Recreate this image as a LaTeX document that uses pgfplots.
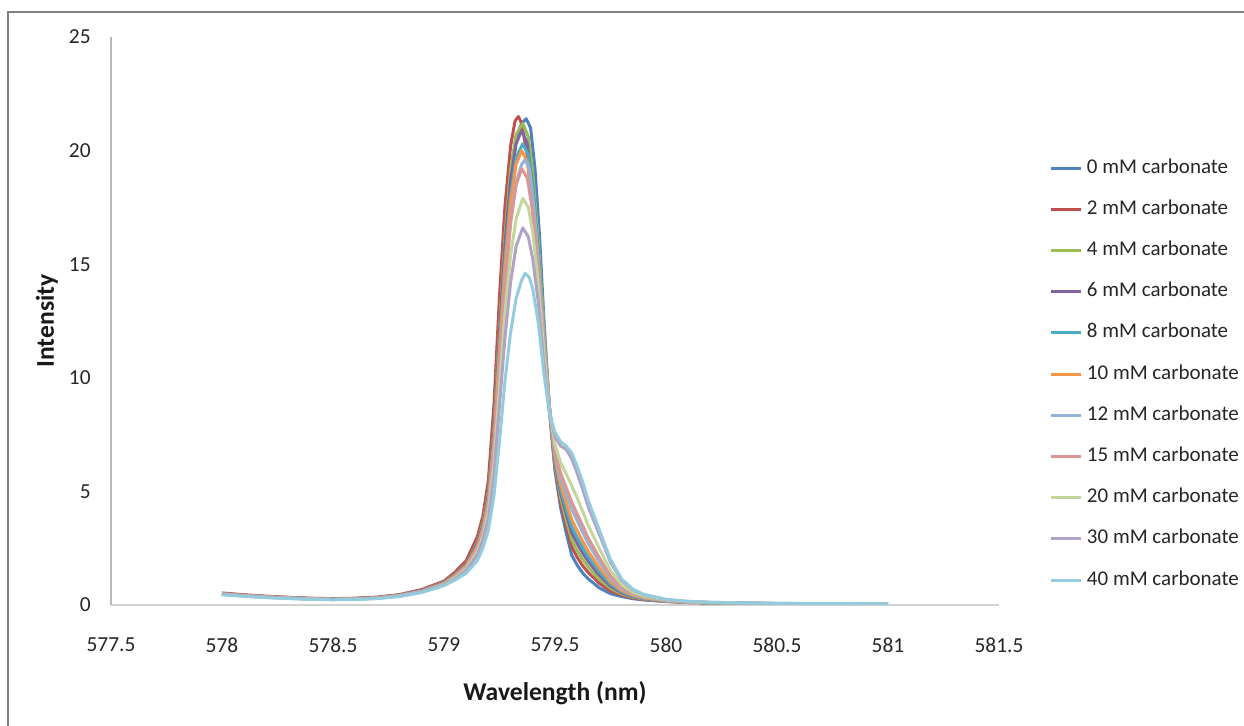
\documentclass[border=0pt]{standalone}
\usepackage{fontspec}
\setmainfont{Carlito}
\usepackage{pgfplots}
\pgfplotsset{compat=1.18}

% Excel-style series colours
\definecolor{c0}{HTML}{4F81BD}
\definecolor{c2}{HTML}{C0504D}
\definecolor{c4}{HTML}{9BBB59}
\definecolor{c6}{HTML}{8064A2}
\definecolor{c8}{HTML}{4BACC6}
\definecolor{c10}{HTML}{F79646}
\definecolor{c12}{HTML}{95B3D7}
\definecolor{c15}{HTML}{D99694}
\definecolor{c20}{HTML}{C3D69B}
\definecolor{c30}{HTML}{B3A2C7}
\definecolor{c40}{HTML}{93CDDD}

\newcommand\ticksize{\fontsize{10.7}{12.5}\selectfont}
\newcommand\labsize{\fontsize{12.8}{15}\selectfont}
\newcommand\legsize{\fontsize{10.5}{12.5}\selectfont}

\begin{document}
\begin{tikzpicture}[x=0.5pt,y=-0.5pt]
\useasboundingbox (0,0) rectangle (1244,726);
\draw[color=black!50, line width=0.6pt] (8,726) -- (8,12) -- (1244,12);
\begin{axis}[
  at={(55.5pt,-302.5pt)}, anchor=south west,
  scale only axis, width=444pt, height=284pt,
  xmin=577.5, xmax=581.5, ymin=0, ymax=25,
  xtick={577.5,578,578.5,579,579.5,580,580.5,581,581.5},
  ytick={0,5,10,15,20,25},
  axis x line*=bottom, axis y line*=left,
  x axis line style={draw=black!18, line width=1pt, -},
  y axis line style={draw=black!28, line width=1pt, -},
  major tick length=0pt,
  /pgf/number format/assume math mode=true,
  xticklabel style={anchor=center, yshift=-20pt, inner sep=0pt, font=\ticksize, text=black!85},
  yticklabel style={anchor=east, xshift=-10pt, inner sep=0pt, font=\ticksize, text=black!85},
  xlabel={Wavelength (nm)},
  ylabel={Intensity},
  every axis x label/.style={at={(axis description cs:0.5,-0.155)}, anchor=center, font=\bfseries\labsize, text=black!90},
  every axis y label/.style={at={(axis description cs:-0.0721,0.5)}, rotate=90, anchor=center, font=\bfseries\labsize, text=black!90},
  no markers,
  every axis plot/.append style={line width=1.5pt, line join=round},
  legend style={at={(1.0574,0.7852)}, anchor=north west, draw=none, fill=none,
    inner sep=0pt, outer sep=0pt, row sep=11.6pt, column sep=2pt,
    nodes={inner sep=0pt, text height=7pt, text depth=2pt, font=\legsize, text=black!85}},
  legend cell align=left,
  legend image code/.code={\draw[#1, line width=1.5pt] (0pt,0pt) -- (15pt,0pt);},
]
% 0 mM
\addplot[c0] coordinates {(578.0,0.50)(578.1,0.43)(578.2,0.37)(578.3,0.32)(578.4,0.28)(578.5,0.26)(578.6,0.28)(578.7,0.32)(578.8,0.42)(578.9,0.62)(579.0,0.95)(579.05,1.3)(579.1,1.75)(579.15,2.6)(579.175,3.4)(579.2,4.7)(579.225,7.3)(579.25,11.5)(579.275,15.6)(579.3,18.8)(579.325,20.6)(579.35,21.2)(579.37,21.4)(579.39,21.0)(579.41,19.2)(579.43,16.3)(579.45,12.6)(579.475,8.6)(579.5,5.9)(579.525,4.3)(579.55,3.2)(579.575,2.2)(579.6,1.75)(579.625,1.4)(579.65,1.15)(579.7,0.75)(579.75,0.5)(579.8,0.37)(579.85,0.28)(579.9,0.22)(580.0,0.15)(580.1,0.11)(580.2,0.09)(580.35,0.07)(580.5,0.06)(580.75,0.05)(581.0,0.04)};
\addlegendentry{0 mM carbonate}
% 2 mM
\addplot[c2] coordinates {(578.0,0.53)(578.1,0.45)(578.2,0.39)(578.3,0.34)(578.4,0.30)(578.5,0.28)(578.6,0.30)(578.7,0.35)(578.8,0.46)(578.9,0.68)(579.0,1.05)(579.05,1.45)(579.1,1.95)(579.15,3.0)(579.175,3.9)(579.2,5.5)(579.225,8.8)(579.25,13.6)(579.275,17.6)(579.3,20.2)(579.32,21.3)(579.335,21.5)(579.35,21.2)(579.375,19.8)(579.4,17.3)(579.425,14.3)(579.45,11.3)(579.475,8.5)(579.5,6.04)(579.525,4.53)(579.55,3.5)(579.575,2.56)(579.6,2.1)(579.625,1.72)(579.65,1.43)(579.7,0.95)(579.75,0.62)(579.8,0.43)(579.85,0.31)(579.9,0.24)(580.0,0.16)(580.1,0.11)(580.2,0.09)(580.35,0.07)(580.5,0.06)(580.75,0.05)(581.0,0.04)};
\addlegendentry{2 mM carbonate}
% 4 mM
\addplot[c4] coordinates {(578.0,0.50)(578.1,0.43)(578.2,0.37)(578.3,0.32)(578.4,0.28)(578.5,0.26)(578.6,0.28)(578.7,0.33)(578.8,0.44)(578.9,0.64)(579.0,1.0)(579.05,1.35)(579.1,1.8)(579.15,2.75)(579.175,3.6)(579.2,5.0)(579.225,7.8)(579.25,12.3)(579.275,16.3)(579.3,19.2)(579.325,20.7)(579.355,21.2)(579.38,20.6)(579.4,19.0)(579.425,16.0)(579.45,12.3)(579.475,8.7)(579.5,6.16)(579.525,4.74)(579.55,3.77)(579.575,2.88)(579.6,2.4)(579.625,2.0)(579.65,1.67)(579.7,1.13)(579.75,0.73)(579.8,0.49)(579.85,0.34)(579.9,0.26)(580.0,0.165)(580.1,0.12)(580.2,0.095)(580.35,0.073)(580.5,0.06)(580.75,0.05)(581.0,0.04)};
\addlegendentry{4 mM carbonate}
% 6 mM
\addplot[c6] coordinates {(578.0,0.49)(578.1,0.42)(578.2,0.36)(578.3,0.31)(578.4,0.28)(578.5,0.26)(578.6,0.28)(578.7,0.33)(578.8,0.44)(578.9,0.64)(579.0,0.98)(579.05,1.32)(579.1,1.78)(579.15,2.7)(579.175,3.5)(579.2,4.9)(579.225,7.6)(579.25,12.0)(579.275,15.9)(579.3,18.7)(579.325,20.3)(579.35,20.9)(579.375,20.3)(579.4,18.4)(579.425,15.4)(579.45,12.0)(579.475,8.7)(579.5,6.27)(579.525,4.94)(579.55,4.04)(579.575,3.19)(579.6,2.71)(579.625,2.28)(579.65,1.91)(579.7,1.31)(579.75,0.83)(579.8,0.54)(579.85,0.37)(579.9,0.28)(580.0,0.17)(580.1,0.12)(580.2,0.10)(580.35,0.075)(580.5,0.06)(580.75,0.05)(581.0,0.04)};
\addlegendentry{6 mM carbonate}
% 8 mM
\addplot[c8] coordinates {(578.0,0.49)(578.1,0.42)(578.2,0.36)(578.3,0.31)(578.4,0.27)(578.5,0.25)(578.6,0.27)(578.7,0.32)(578.8,0.43)(578.9,0.62)(579.0,0.96)(579.05,1.3)(579.1,1.74)(579.15,2.6)(579.175,3.4)(579.2,4.7)(579.225,7.3)(579.25,11.4)(579.275,15.2)(579.3,18.0)(579.325,19.7)(579.355,20.3)(579.38,19.8)(579.4,18.3)(579.425,15.4)(579.45,11.9)(579.475,8.7)(579.5,6.38)(579.525,5.11)(579.55,4.26)(579.575,3.46)(579.6,2.97)(579.625,2.52)(579.65,2.12)(579.7,1.46)(579.75,0.92)(579.8,0.59)(579.85,0.40)(579.9,0.29)(580.0,0.18)(580.1,0.125)(580.2,0.10)(580.35,0.075)(580.5,0.063)(580.75,0.053)(581.0,0.043)};
\addlegendentry{8 mM carbonate}
% 10 mM
\addplot[c10] coordinates {(578.0,0.49)(578.1,0.42)(578.2,0.36)(578.3,0.31)(578.4,0.27)(578.5,0.25)(578.6,0.27)(578.7,0.32)(578.8,0.42)(578.9,0.61)(579.0,0.95)(579.05,1.28)(579.1,1.72)(579.15,2.58)(579.175,3.35)(579.2,4.6)(579.225,7.2)(579.25,11.2)(579.275,14.9)(579.3,17.7)(579.325,19.4)(579.35,20.0)(579.375,19.5)(579.4,17.8)(579.425,15.0)(579.45,11.7)(579.475,8.7)(579.5,6.5)(579.525,5.32)(579.55,4.53)(579.575,3.78)(579.6,3.27)(579.625,2.8)(579.65,2.36)(579.7,1.64)(579.75,1.03)(579.8,0.64)(579.85,0.43)(579.9,0.31)(580.0,0.185)(580.1,0.128)(580.2,0.10)(580.35,0.077)(580.5,0.064)(580.75,0.054)(581.0,0.044)};
\addlegendentry{10 mM carbonate}
% 12 mM
\addplot[c12] coordinates {(578.0,0.48)(578.1,0.41)(578.2,0.35)(578.3,0.30)(578.4,0.27)(578.5,0.25)(578.6,0.26)(578.7,0.31)(578.8,0.41)(578.9,0.60)(579.0,0.93)(579.05,1.25)(579.1,1.68)(579.15,2.5)(579.175,3.2)(579.2,4.4)(579.225,6.8)(579.25,10.6)(579.275,14.2)(579.3,16.9)(579.325,18.6)(579.35,19.4)(579.365,19.6)(579.385,19.2)(579.4,18.0)(579.425,15.2)(579.45,11.8)(579.475,8.7)(579.5,6.67)(579.525,5.61)(579.55,4.91)(579.575,4.23)(579.6,3.71)(579.625,3.2)(579.65,2.70)(579.7,1.90)(579.75,1.18)(579.8,0.72)(579.85,0.47)(579.9,0.33)(580.0,0.195)(580.1,0.133)(580.2,0.104)(580.35,0.079)(580.5,0.065)(580.75,0.055)(581.0,0.045)};
\addlegendentry{12 mM carbonate}
% 15 mM
\addplot[c15] coordinates {(578.0,0.48)(578.1,0.41)(578.2,0.35)(578.3,0.30)(578.4,0.27)(578.5,0.25)(578.6,0.26)(578.7,0.31)(578.8,0.41)(578.9,0.60)(579.0,0.93)(579.05,1.25)(579.1,1.68)(579.15,2.5)(579.175,3.2)(579.2,4.4)(579.225,6.8)(579.25,10.6)(579.275,14.1)(579.3,16.8)(579.325,18.5)(579.35,19.2)(579.375,18.8)(579.4,17.3)(579.425,14.7)(579.45,11.5)(579.475,8.7)(579.5,6.78)(579.525,5.81)(579.55,5.18)(579.575,4.54)(579.6,4.01)(579.625,3.48)(579.65,2.94)(579.7,2.08)(579.75,1.28)(579.8,0.78)(579.85,0.50)(579.9,0.35)(580.0,0.20)(580.1,0.136)(580.2,0.106)(580.35,0.08)(580.5,0.065)(580.75,0.055)(581.0,0.045)};
\addlegendentry{15 mM carbonate}
% 20 mM
\addplot[c20] coordinates {(578.0,0.47)(578.1,0.40)(578.2,0.34)(578.3,0.30)(578.4,0.26)(578.5,0.24)(578.6,0.26)(578.7,0.30)(578.8,0.40)(578.9,0.58)(579.0,0.9)(579.05,1.2)(579.1,1.6)(579.15,2.35)(579.175,3.0)(579.2,4.1)(579.225,6.2)(579.25,9.6)(579.275,12.9)(579.3,15.4)(579.325,17.0)(579.355,17.9)(579.38,17.5)(579.4,16.4)(579.425,14.1)(579.45,11.1)(579.475,8.6)(579.5,7.06)(579.525,6.27)(579.55,5.78)(579.575,5.26)(579.6,4.71)(579.625,4.12)(579.65,3.50)(579.7,2.48)(579.75,1.52)(579.8,0.90)(579.85,0.57)(579.9,0.39)(580.0,0.218)(580.1,0.144)(580.2,0.11)(580.35,0.084)(580.5,0.067)(580.75,0.057)(581.0,0.047)};
\addlegendentry{20 mM carbonate}
% 30 mM
\addplot[c30] coordinates {(578.0,0.47)(578.1,0.40)(578.2,0.34)(578.3,0.30)(578.4,0.26)(578.5,0.24)(578.6,0.26)(578.7,0.30)(578.8,0.39)(578.9,0.58)(579.0,0.88)(579.05,1.15)(579.1,1.52)(579.15,2.2)(579.175,2.85)(579.2,3.8)(579.225,5.7)(579.25,8.8)(579.275,11.8)(579.3,14.2)(579.325,15.8)(579.355,16.6)(579.38,16.2)(579.4,15.2)(579.425,13.3)(579.45,10.6)(579.475,8.5)(579.5,7.4)(579.525,7.0)(579.55,6.85)(579.575,6.45)(579.6,5.8)(579.625,5.08)(579.65,4.32)(579.7,3.10)(579.75,1.88)(579.8,1.09)(579.85,0.67)(579.9,0.45)(580.0,0.24)(580.1,0.156)(580.2,0.118)(580.35,0.088)(580.5,0.069)(580.75,0.059)(581.0,0.049)};
\addlegendentry{30 mM carbonate}
% 40 mM
\addplot[c40] coordinates {(578.0,0.45)(578.1,0.38)(578.2,0.32)(578.3,0.28)(578.4,0.25)(578.5,0.23)(578.6,0.24)(578.7,0.28)(578.8,0.37)(578.9,0.55)(579.0,0.85)(579.05,1.1)(579.1,1.4)(579.15,1.95)(579.175,2.5)(579.2,3.3)(579.225,4.8)(579.25,7.2)(579.275,9.9)(579.3,12.0)(579.325,13.5)(579.35,14.3)(579.365,14.6)(579.385,14.4)(579.4,13.9)(579.425,12.4)(579.45,10.2)(579.475,8.4)(579.5,7.6)(579.525,7.2)(579.55,7.0)(579.575,6.7)(579.6,6.1)(579.625,5.4)(579.65,4.6)(579.7,3.3)(579.75,2.0)(579.8,1.15)(579.85,0.7)(579.9,0.47)(580.0,0.25)(580.1,0.16)(580.2,0.12)(580.35,0.09)(580.5,0.07)(580.75,0.06)(581.0,0.05)};
\addlegendentry{40 mM carbonate}
\end{axis}
\end{tikzpicture}
\end{document}
